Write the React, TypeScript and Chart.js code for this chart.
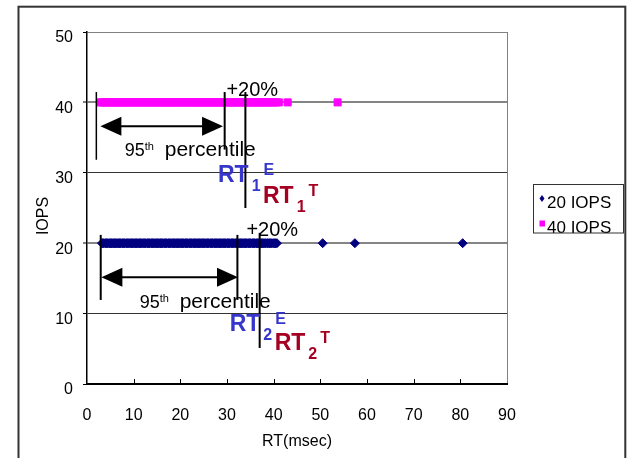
import { useEffect, useRef } from 'react';
import { Chart, registerables } from 'chart.js';

Chart.register(...registerables);

const FONT = "'Liberation Sans', Arial, sans-serif";

// ---- data ----
const seriesNames = ['20 IOPS', '40 IOPS'];
const seriesLevels = [20, 40];
const seriesColors = ['#000080', '#FF00FF'];
const rt20IOPS = [
  3.2, 3.4, 3.6, 3.9, 4.1, 4.3, 4.5, 4.8, 5.0, 5.2, 5.4, 5.7, 5.9, 6.1, 6.3, 6.6,
  6.8, 7.0, 7.2, 7.5, 7.7, 7.9, 8.1, 8.4, 8.6, 8.8, 9.0, 9.3, 9.5, 9.7, 9.9, 10.2,
  10.4, 10.6, 10.8, 11.1, 11.3, 11.5, 11.7, 12.0, 12.2, 12.4, 12.6, 12.9, 13.1, 13.3,
  13.5, 13.8, 14.0, 14.2, 14.4, 14.7, 14.9, 15.1, 15.3, 15.6, 15.8, 16.0, 16.2, 16.5,
  16.7, 16.9, 17.1, 17.4, 17.6, 17.8, 18.0, 18.3, 18.5, 18.7, 18.9, 19.2, 19.4, 19.6,
  19.8, 20.1, 20.3, 20.5, 20.7, 21.0, 21.2, 21.4, 21.6, 21.9, 22.1, 22.3, 22.5, 22.8,
  23.0, 23.2, 23.4, 23.7, 23.9, 24.1, 24.3, 24.6, 24.8, 25.0, 25.2, 25.5, 25.7, 25.9,
  26.1, 26.4, 26.6, 26.8, 27.0, 27.3, 27.5, 27.7, 27.9, 28.2, 28.4, 28.6, 28.8, 29.1,
  29.3, 29.5, 29.7, 30.0, 30.2, 30.4, 30.6, 30.9, 31.1, 31.3, 31.5, 31.8, 32.0, 32.2,
  32.4, 32.7, 32.9, 33.1, 33.3, 33.6, 33.8, 34.0, 34.2, 34.5, 34.7, 34.9, 35.1, 35.4,
  35.6, 35.8, 36.0, 36.3, 36.5, 36.7, 36.9, 37.2, 37.4, 37.6, 37.8, 38.1, 38.3, 38.6,
  38.8, 39.1, 39.3, 39.6, 39.9, 40.2, 40.4, 40.7,
  50.5, 57.4, 80.5,
];
const rt40IOPS = [
  2.9, 3.3, 3.8, 4.2, 4.7, 5.1, 5.6, 6.0, 6.5, 6.9, 7.4, 7.8, 8.3, 8.7, 9.2, 9.6,
  10.1, 10.5, 11.0, 11.4, 11.9, 12.3, 12.8, 13.2, 13.7, 14.1, 14.6, 15.0, 15.5, 15.9,
  16.4, 16.8, 17.3, 17.7, 18.2, 18.6, 19.1, 19.5, 20.0, 20.4, 20.9, 21.3, 21.8, 22.2,
  22.7, 23.1, 23.6, 24.0, 24.5, 24.9, 25.4, 25.8, 26.3, 26.7, 27.2, 27.6, 28.1, 28.5,
  29.0, 29.4, 29.9, 30.3, 30.8, 31.2, 31.7, 32.1, 32.6, 33.0, 33.5, 33.9, 34.4, 34.8,
  35.3, 35.7, 36.2, 36.6, 37.1, 37.5, 38.0, 38.4, 38.9, 39.4, 39.9, 40.5, 41.1,
  43.0, 53.7,
];
const xTitle = 'RT(msec)';
const yTitle = 'IOPS';

// ---- annotations (data coordinates) ----
const annotationGroups = [
  {
    startX: 2.0, startTop: 41.47, startBottom: 31.85,
    arrowY: 36.6, arrowFrom: 2.87, arrowTo: 29.15,
    p95X: 29.5, p95Top: 41.47, p95Bottom: 33.3,
    plusX: 33.94, plusTop: 41.47, plusBottom: 25.0,
    plusTextX: 29.87, plusTextY: 40.85,
    pctTextX: 8.08, pctTextY: 32.41,
    rteX: 28.07, rteY: 28.76, rttX: 37.71, rttY: 25.69, sub: '1',
  },
  {
    startX: 2.94, startTop: 21.18, startBottom: 11.94,
    arrowY: 15.17, arrowFrom: 3.08, arrowTo: 32.36,
    p95X: 32.23, p95Top: 21.18, p95Bottom: 11.94,
    plusX: 37.0, plusTop: 21.47, plusBottom: 5.12,
    plusTextX: 34.16, plusTextY: 21.04,
    pctTextX: 11.29, pctTextY: 10.76,
    rteX: 30.58, rteY: 7.58, rttX: 40.22, rttY: 4.83, sub: '2',
  },
];

const BLUE = '#3636CC';
const RED = '#A50021';

const framePlugin = {
  id: 'frame',
  beforeDraw(chart: any) {
    const { ctx, width, height } = chart;
    ctx.save();
    ctx.fillStyle = '#fff';
    ctx.fillRect(0, 0, width, height);
    ctx.strokeStyle = '#333';
    ctx.lineWidth = 2;
    ctx.strokeRect(18.5, 6.7, 625.3 - 18.5, height + 10);
    ctx.restore();
  },
  afterDraw(chart: any) {
    const { ctx, chartArea, scales } = chart;
    const x = scales.x;
    ctx.save();
    // inner tick marks on x axis
    ctx.strokeStyle = '#000';
    ctx.lineWidth = 1;
    x.ticks.forEach((t: any) => {
      if (t.value <= 0 || t.value >= 90) return;
      const p = Math.round(x.getPixelForValue(t.value)) + 0.5;
      ctx.beginPath();
      ctx.moveTo(p, chartArea.bottom);
      ctx.lineTo(p, chartArea.bottom - 5);
      ctx.stroke();
    });
    // axis titles
    ctx.fillStyle = '#000';
    ctx.font = `16px ${FONT}`;
    ctx.textAlign = 'center';
    ctx.textBaseline = 'middle';
    ctx.fillText(xTitle, (chartArea.left + chartArea.right) / 2, 442);
    ctx.translate(44, 216);
    ctx.rotate(-Math.PI / 2);
    ctx.fillText(yTitle, 0, 0);
    ctx.restore();

    // legend
    const lx = 533.5, ly = 184.5, lw = 90, lh = 48.5;
    ctx.save();
    ctx.fillStyle = '#fff';
    ctx.fillRect(lx, ly, lw, lh);
    ctx.beginPath();
    ctx.rect(lx, ly, lw, lh);
    ctx.clip();
    chart.data.datasets.forEach((ds: any, i: number) => {
      const cy = ly + 14 + i * 25;
      ctx.fillStyle = ds.backgroundColor;
      ctx.beginPath();
      if (ds.pointStyle === 'rectRot') {
        ctx.moveTo(lx + 8.5, cy - 3.5);
        ctx.lineTo(lx + 11, cy);
        ctx.lineTo(lx + 8.5, cy + 3.5);
        ctx.lineTo(lx + 6, cy);
        ctx.closePath();
      } else {
        ctx.rect(lx + 6, cy - 3, 5.5, 6);
      }
      ctx.fill();
      ctx.fillStyle = '#000';
      ctx.font = `17px ${FONT}`;
      ctx.textAlign = 'left';
      ctx.textBaseline = 'alphabetic';
      ctx.fillText(ds.label, lx + 13.5, cy + 9);
    });
    ctx.restore();
    ctx.save();
    ctx.strokeStyle = '#333';
    ctx.lineWidth = 1;
    ctx.strokeRect(lx, ly, lw, lh);
    ctx.restore();
  },
};

const annotationPlugin = {
  id: 'annotations',
  afterDatasetsDraw(chart: any) {
    const { ctx, scales } = chart;
    const px = (v: number) => scales.x.getPixelForValue(v);
    const py = (v: number) => scales.y.getPixelForValue(v);
    ctx.save();
    const vline = (xv: number, y1: number, y2: number, w: number) => {
      ctx.lineWidth = w;
      ctx.strokeStyle = '#000';
      ctx.beginPath();
      ctx.moveTo(px(xv), py(y1));
      ctx.lineTo(px(xv), py(y2));
      ctx.stroke();
    };
    annotationGroups.forEach((g, gi) => {
      vline(g.startX, g.startTop, g.startBottom, gi === 0 ? 1.5 : 2);
      vline(g.p95X, g.p95Top, g.p95Bottom, 2);
      vline(g.plusX, g.plusTop, g.plusBottom, 2);

      // double arrow
      const ay = py(g.arrowY);
      const ax1 = px(g.arrowFrom);
      const ax2 = px(g.arrowTo);
      const hl = 21, hh = 9.5;
      ctx.lineWidth = 2;
      ctx.beginPath();
      ctx.moveTo(ax1 + hl - 2, ay);
      ctx.lineTo(ax2 - hl + 2, ay);
      ctx.stroke();
      ctx.fillStyle = '#000';
      ctx.beginPath();
      ctx.moveTo(ax1, ay);
      ctx.lineTo(ax1 + hl, ay - hh);
      ctx.lineTo(ax1 + hl, ay + hh);
      ctx.closePath();
      ctx.fill();
      ctx.beginPath();
      ctx.moveTo(ax2, ay);
      ctx.lineTo(ax2 - hl, ay - hh);
      ctx.lineTo(ax2 - hl, ay + hh);
      ctx.closePath();
      ctx.fill();

      // texts
      ctx.textAlign = 'left';
      ctx.textBaseline = 'alphabetic';
      ctx.fillStyle = '#000';
      ctx.font = `20px ${FONT}`;
      ctx.fillText('+20%', px(g.plusTextX), py(g.plusTextY));

      const tx = px(g.pctTextX), ty = py(g.pctTextY);
      ctx.font = `18px ${FONT}`;
      ctx.fillText('95', tx, ty);
      ctx.font = `11px ${FONT}`;
      ctx.fillText('th', tx + 20, ty - 6);
      ctx.font = `21px ${FONT}`;
      ctx.fillText('percentile', tx + 40, ty);

      const rt = (xv: number, yv: number, sup: string, color: string) => {
        const x0 = px(xv), y0 = py(yv);
        ctx.fillStyle = color;
        ctx.font = `bold 23px ${FONT}`;
        ctx.fillText('RT', x0, y0);
        const w1 = ctx.measureText('RT').width;
        ctx.font = `bold 16px ${FONT}`;
        ctx.fillText(g.sub, x0 + w1 + 3, y0 + 9);
        const w2 = ctx.measureText(g.sub).width;
        ctx.fillText(sup, x0 + w1 + w2 + 6, y0 - 7);
      };
      rt(g.rteX, g.rteY, 'E', BLUE);
      rt(g.rttX, g.rttY, 'T', RED);
    });
    ctx.restore();
  },
};

export default function App() {
  const canvasRef = useRef<HTMLCanvasElement | null>(null);

  useEffect(() => {
    if (!canvasRef.current) return;
    const seriesData = [rt20IOPS, rt40IOPS];
    const chart = new Chart(canvasRef.current, {
      type: 'scatter',
      data: {
        datasets: seriesNames.map((name, i) => ({
          label: name,
          data: seriesData[i].map((v) => ({ x: v, y: seriesLevels[i] })),
          backgroundColor: seriesColors[i],
          borderColor: seriesColors[i],
          borderWidth: 1,
          pointStyle: i === 0 ? 'rectRot' : 'rect',
          pointRadius: i === 0 ? 4.5 : 5,
          showLine: false,
        })),
      },
      options: {
        animation: false,
        responsive: false,
        devicePixelRatio: 1,
        events: [],
        layout: { padding: { left: 0, top: 32, right: 123, bottom: 0 } },
        plugins: {
          legend: { display: false },
          tooltip: { enabled: false },
        },
        scales: {
          x: {
            type: 'linear',
            min: 0,
            max: 90,
            afterFit: (s: any) => { s.height = 74; },
            ticks: {
              stepSize: 10,
              padding: 22,
              color: '#000',
              font: { family: FONT, size: 16 },
            },
            grid: {
              drawTicks: false,
              color: (c: any) => (c.tick && c.tick.value === 90 ? '#808080' : 'rgba(0,0,0,0)'),
              lineWidth: 1,
            },
            border: { display: true, color: '#000', width: 2 },
          },
          y: {
            type: 'linear',
            min: 0,
            max: 50,
            afterFit: (s: any) => { s.width = 87; },
            ticks: {
              stepSize: 10,
              padding: 10,
              labelOffset: 6,
              color: '#000',
              font: { family: FONT, size: 16 },
            },
            grid: {
              drawTicks: true,
              tickLength: 4,
              tickColor: '#000',
              tickWidth: 1,
              color: (c: any) => {
                const v = c.tick ? c.tick.value : 0;
                if (v === 20 || v === 40) return '#858585';
                if (v === 50) return '#808080';
                return '#333';
              },
              lineWidth: (c: any) => {
                const v = c.tick ? c.tick.value : 0;
                return v === 20 || v === 40 ? 2 : 1;
              },
            },
            border: { display: true, color: '#000', width: 1.5 },
          },
        },
      },
      plugins: [framePlugin, annotationPlugin],
    });
    return () => chart.destroy();
  }, []);

  return (
    <div style={{ position: 'absolute', left: 0, top: 0, width: 630, height: 458, background: '#fff' }}>
      <canvas ref={canvasRef} width={630} height={458} style={{ display: 'block' }} />
    </div>
  );
}
